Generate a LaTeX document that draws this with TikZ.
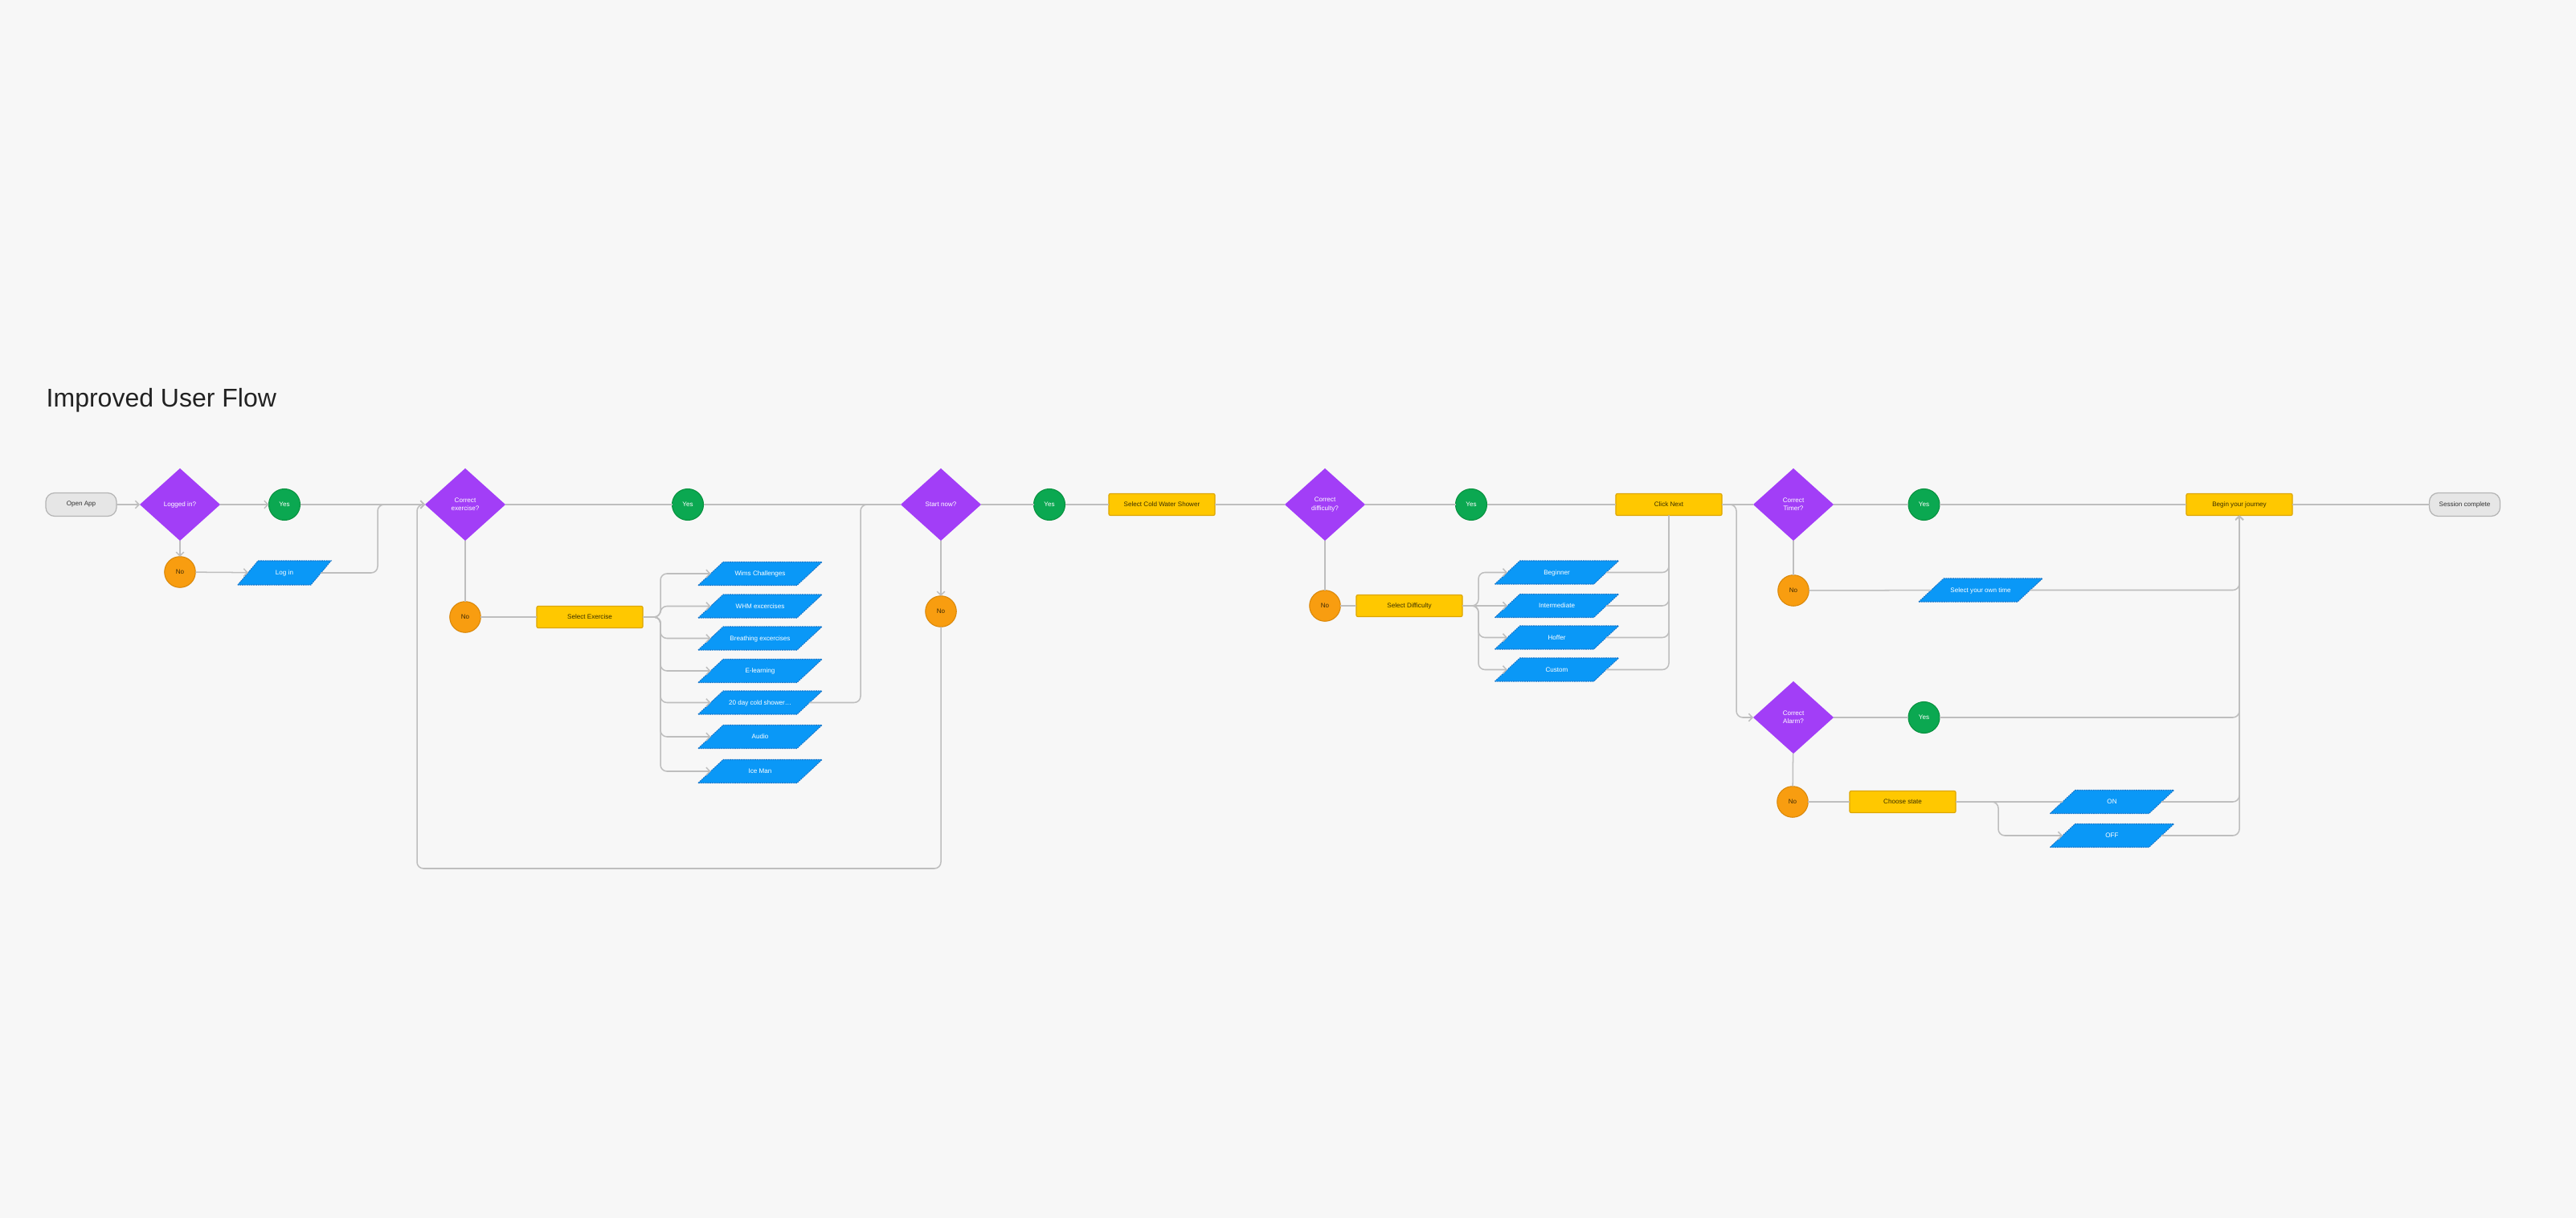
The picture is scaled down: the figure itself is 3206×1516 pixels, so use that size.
\documentclass[tikz,border=0pt]{standalone}
\usepackage{fontspec}
\setmainfont{Liberation Sans}
\usetikzlibrary{shapes.geometric,arrows.meta}
\definecolor{bg}{HTML}{F7F7F7}
\definecolor{lin}{HTML}{BEBEBE}
\definecolor{termfill}{HTML}{E6E6E6}
\definecolor{termline}{HTML}{B4B4B4}
\definecolor{termtext}{HTML}{333333}
\definecolor{purp}{HTML}{A23EF7}
\definecolor{grn}{HTML}{0BA851}
\definecolor{grnline}{HTML}{08913F}
\definecolor{org}{HTML}{F89D10}
\definecolor{orgline}{HTML}{D98709}
\definecolor{notext}{HTML}{3E2A05}
\definecolor{yel}{HTML}{FFC800}
\definecolor{yelline}{HTML}{DDA600}
\definecolor{acttext}{HTML}{3A3000}
\definecolor{blu}{HTML}{0A98F7}
\definecolor{bluline}{HTML}{1775C9}
\definecolor{titletext}{HTML}{222222}
\begin{document}
\begin{tikzpicture}[x=0.01cm,y=-0.01cm,
  base/.style={font=\fontsize{2.3}{2.9}\selectfont, align=center, inner sep=0pt, outer sep=0pt},
  term/.style={base, rectangle, rounded corners=0.11cm, fill=termfill, draw=termline, line width=0.35pt, minimum width=0.88cm, minimum height=0.29cm, text=termtext},
  dec/.style={base, diamond, fill=purp, minimum width=1cm, minimum height=0.9cm, text=white},
  yesn/.style={base, circle, fill=grn, draw=grnline, line width=0.3pt, minimum size=0.39cm, text=white},
  non/.style={base, circle, fill=org, draw=orgline, line width=0.3pt, minimum size=0.385cm, text=notext},
  act/.style={base, rectangle, rounded corners=0.02cm, fill=yel, draw=yelline, line width=0.35pt, minimum width=1.32cm, minimum height=0.27cm, text=acttext},
  io/.style={base, trapezium, trapezium left angle=43, trapezium right angle=137, trapezium stretches body, fill=blu, draw=bluline, line width=0.3pt, dash pattern=on 0.5pt off 0.3pt, text height=0.174cm, text depth=0.116cm, minimum width=1.54cm, text=white},
  loginbox/.style={trapezium left angle=50, trapezium right angle=130, text height=0.179cm, text depth=0.121cm, minimum width=1.16cm},
  conn/.style={draw=lin, line width=0.43pt, rounded corners=0.08cm},
  arr/.style={conn, -{Straight Barb[length=0.45mm,width=0.95mm]}}
]
\fill[bg] (0,0) rectangle (3206,1516);
\useasboundingbox (0,0) rectangle (3206,1516);

\node[anchor=base west, inner sep=0pt, text=titletext, font=\fontsize{9.1}{11}\selectfont] (title) at (57,507) {Improved User Flow};

% nodes
\node[term] (openapp) at (101,628) {Open App};
\node[dec] (logged) at (224,628) {Logged in?};
\node[yesn] (yes1) at (354,628) {Yes};
\node[non] (no1) at (224,712) {No};
\node[io, loginbox] (login) at (354,713) {Log in};
\node[dec] (corrEx) at (579,628) {Correct\\exercise?};
\node[yesn] (yes2) at (856,628) {Yes};
\node[non] (no2) at (579,768) {No};
\node[act] (selEx) at (734,768) {Select Exercise};
\node[io] (wims) at (946,714) {Wims Challenges};
\node[io] (whm) at (946,754.5) {WHM excercises};
\node[io] (breath) at (946,794.5) {Breathing excercises};
\node[io] (elearn) at (946,835) {E-learning};
\node[io] (cold20) at (946,874.5) {20 day cold shower…};
\node[io] (audio) at (946,917) {Audio};
\node[io] (iceman) at (946,960) {Ice Man};
\node[dec] (startNow) at (1171,628) {Start now?};
\node[non] (no3) at (1171,761) {No};
\node[yesn] (yes3) at (1306,628) {Yes};
\node[act] (selCold) at (1446,628) {Select Cold Water Shower};
\node[dec] (corrDiff) at (1649,628) {Correct\\difficulty?};
\node[yesn] (yes4) at (1831,628) {Yes};
\node[non] (no4) at (1649,754) {No};
\node[act] (selDiff) at (1754,754) {Select Difficulty};
\node[io] (beginner) at (1937.5,712.5) {Beginner};
\node[io] (intermediate) at (1937.5,754) {Intermediate};
\node[io] (hoffer) at (1937.5,793.5) {Hoffer};
\node[io] (custom) at (1937.5,833.5) {Custom};
\node[act] (clickNext) at (2077,628) {Click Next};
\node[dec] (corrTimer) at (2232,628) {Correct\\Timer?};
\node[yesn] (yes5) at (2394.5,628) {Yes};
\node[non] (no5) at (2232,735) {No};
\node[io] (ownTime) at (2465,734.5) {Select your own time};
\node[act] (beginJ) at (2787,628) {Begin your journey};
\node[term] (session) at (3067.5,628) {Session complete};
\node[dec] (corrAlarm) at (2232,893) {Correct\\Alarm?};
\node[yesn] (yes6) at (2394.5,893) {Yes};
\node[non] (no6) at (2231,998) {No};
\node[act] (chooseState) at (2368,998) {Choose state};
\node[io] (on) at (2628.5,998) {ON};
\node[io] (off) at (2628.5,1040) {OFF};

% junction points
\coordinate (j1) at (470,628);
\coordinate (loopL) at (519,1081);
\coordinate (tr1) at (822,768);
\coordinate (j2) at (1071,628);
\coordinate (tr2) at (1840,754);
\coordinate (j3) at (2161,628);
\coordinate (j4) at (2487,998);

% connectors
\draw[arr] (openapp) -- (logged);
\draw[arr] (logged) -- (yes1);
\draw[arr] (logged) -- (no1);
\draw[arr] (no1) -- (login);
\draw[arr] (yes1) -- (corrEx);
\draw[arr] (login.east) -| (j1) -- (corrEx.west);
\draw[arr] (no3.south) |- (loopL) |- (corrEx.west);
\draw[conn] (corrEx) -- (yes2);
\draw[conn] (yes2) -- (startNow);
\draw[conn] (corrEx) -- (no2);
\draw[conn] (no2) -- (selEx);
\foreach \n in {wims,whm,breath,elearn,cold20,audio,iceman}
  \draw[arr] (selEx.east) -- (tr1) |- (\n.west);
\draw[conn] (cold20.east) -| (j2) -- (startNow.west);
\draw[arr] (startNow) -- (no3);
\draw[conn] (startNow) -- (yes3);
\draw[conn] (yes3) -- (selCold);
\draw[conn] (selCold) -- (corrDiff);
\draw[conn] (corrDiff) -- (yes4);
\draw[conn] (yes4) -- (clickNext);
\draw[conn] (corrDiff) -- (no4);
\draw[conn] (no4) -- (selDiff);
\foreach \n in {beginner,hoffer,custom}
  \draw[arr] (selDiff.east) -- (tr2) |- (\n.west);
\draw[arr] (selDiff.east) -- (intermediate.west);
\foreach \n in {beginner,intermediate,hoffer,custom}
  \draw[conn] (\n.east) -| (clickNext.south);
\draw[conn] (clickNext) -- (corrTimer);
\draw[arr] (clickNext.east) -- (j3) |- (corrAlarm.west);
\draw[conn] (corrTimer) -- (yes5);
\draw[conn] (yes5) -- (beginJ);
\draw[conn] (beginJ) -- (session);
\draw[conn] (corrTimer) -- (no5);
\draw[conn] (no5) -- (ownTime);
\draw[arr] (ownTime.east) -| (beginJ.south);
\draw[conn] (corrAlarm) -- (yes6);
\draw[arr] (yes6.east) -| (beginJ.south);
\draw[conn] (corrAlarm) -- (no6);
\draw[conn] (no6) -- (chooseState);
\draw[conn] (chooseState) -- (on);
\draw[arr] (chooseState.east) -- (j4) |- (off.west);
\draw[arr] (on.east) -| (beginJ.south);
\draw[arr] (off.east) -| (beginJ.south);
\end{tikzpicture}
\end{document}
